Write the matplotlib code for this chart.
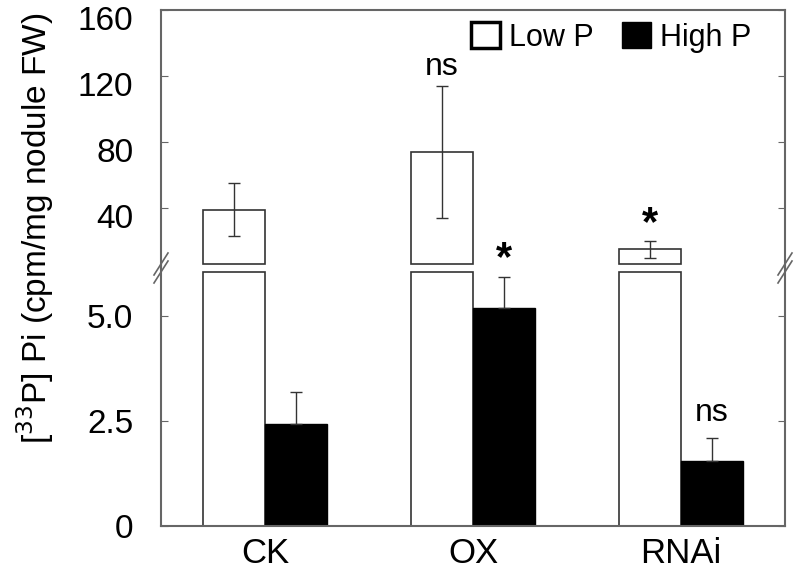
import numpy as np
import matplotlib
matplotlib.use('Agg')
from matplotlib import pyplot as plt
from matplotlib.patches import Patch
from matplotlib.lines import Line2D
from matplotlib.transforms import ScaledTranslation

plt.rcParams['font.family'] = ['Liberation Sans', 'DejaVu Sans']

groups = ['CK', 'OX', 'RNAi']
low_p = [39, 74, 15]
low_p_err = [16, 40, 5]
high_p = [2.44, 5.19, 1.55]
high_p_err = [0.75, 0.75, 0.54]
low_marks = ['', 'ns', '*']
high_marks = ['', '*', 'ns']

# where the axis is cut
cut_low, cut_high = 6.05, 6.0

W, H = 797, 571
fig = plt.figure(figsize=(W / 100, H / 100), dpi=100)

def box(x0, y0, x1, y1):
    # pixel coords (top-left origin) -> figure fraction
    return [x0 / W, 1 - y1 / H, (x1 - x0) / W, (y1 - y0) / H]

ax_top = fig.add_axes(box(161, 10, 785, 265.8))
ax_bot = fig.add_axes(box(161, 267.7, 785, 526))

x = np.arange(len(groups))
bw = 0.3
spine_c = '#666666'
edge_c = '#333333'

for ax in (ax_top, ax_bot):
    ax.set_xlim(-0.5, 2.5)
    for s in ax.spines.values():
        s.set_color(spine_c)
        s.set_linewidth(1.5)
    ax.tick_params(axis='y', direction='in', length=5, color=spine_c,
                   right=True, labelsize=24, pad=20)
    ax.tick_params(axis='x', length=0, labelsize=25, pad=8)

# upper segment of the Low P bars
ax_top.bar(x - bw / 2, np.array(low_p) - cut_high, bw, bottom=cut_high,
           color='white', edgecolor=edge_c, linewidth=1.2)
ax_top.errorbar(x - bw / 2, low_p, yerr=low_p_err, fmt='none', ecolor=edge_c,
                elinewidth=1, capsize=4.5, capthick=1)
ax_top.set_ylim(5, 160)
ax_top.set_yticks([40, 80, 120, 160])
ax_top.spines['bottom'].set_visible(False)
ax_top.set_xticks([])
# labels of the upper part sit a bit below their ticks
shift = ScaledTranslation(0, -8 / 100, fig.dpi_scale_trans)
for lab in ax_top.get_yticklabels():
    lab.set_transform(lab.get_transform() + shift)

# lower segment
ax_bot.bar(x - bw / 2, np.minimum(low_p, cut_low), bw, color='white',
           edgecolor=edge_c, linewidth=1.2)
ax_bot.bar(x + bw / 2, high_p, bw, color='black', edgecolor='black', linewidth=1)
ax_bot.errorbar(x + bw / 2, high_p, yerr=[np.zeros(3), high_p_err], fmt='none',
                ecolor=edge_c, elinewidth=1, capsize=4.5, capthick=1)
ax_bot.set_ylim(0, 6.15)
ax_bot.set_yticks([0, 2.5, 5.0])
ax_bot.set_yticklabels(['0', '2.5', '5.0'])
ax_bot.spines['top'].set_visible(False)
ax_bot.set_xticks(x)
ax_bot.set_xticklabels(groups)

def mark(ax, txt, xv, yv, off):
    if not txt:
        return
    if txt == '*':
        ax.annotate(txt, (xv, yv), xytext=(0, -2), textcoords='offset points',
                    ha='center', va='bottom', fontsize=30, fontweight='bold')
    else:
        ax.annotate(txt, (xv, yv), xytext=(0, off), textcoords='offset points',
                    ha='center', va='bottom', fontsize=23)

for i in range(3):
    mark(ax_top, low_marks[i], x[i] - bw / 2, low_p[i] + low_p_err[i], 3)
    mark(ax_bot, high_marks[i], x[i] + bw / 2, high_p[i] + high_p_err[i], 7)

# continuous spines across the break, and break marks
for xp in (161, 785):
    fig.add_artist(Line2D([xp / W, xp / W], [1 - 268 / H, 1 - 265 / H],
                          color=spine_c, lw=1.5))
    for dy in (-4, 4):
        fig.add_artist(Line2D([(xp - 7) / W, (xp + 7) / W],
                              [1 - (268 + dy + 11) / H, 1 - (268 + dy - 11) / H],
                              color=spine_c, lw=1.2))

handles = [Patch(facecolor='white', edgecolor='black', linewidth=2.5, label='Low P'),
           Patch(facecolor='black', edgecolor='black', label='High P')]
ax_top.legend(handles=handles, loc='upper right', ncol=2, frameon=False,
              fontsize=22, handlelength=0.95, handleheight=0.95,
              handletextpad=0.3, columnspacing=0.9,
              bbox_to_anchor=(0.975, 1.025), borderaxespad=0.2)

fig.text(35 / W, 1 - 228 / H, '[$^{33}$P] Pi (cpm/mg nodule FW)', rotation=90,
         ha='center', va='center', fontsize=24)

fig.savefig('out.png', dpi=100)
